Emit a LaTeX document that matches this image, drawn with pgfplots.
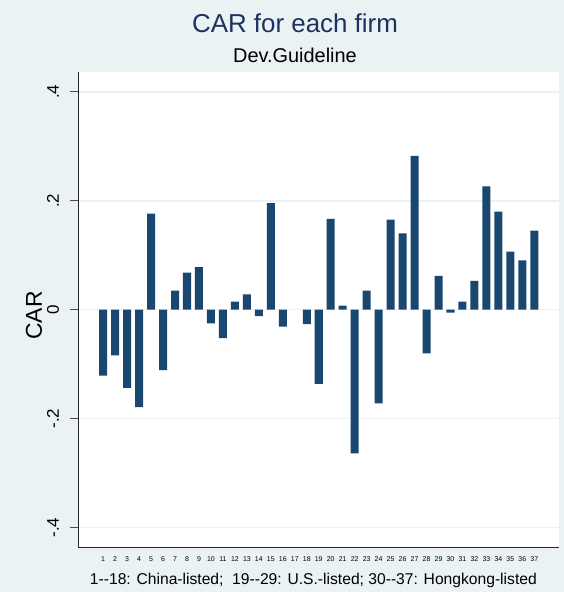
\documentclass[border=0pt]{standalone}
\usepackage{pgfplots}
\pgfplotsset{compat=1.18}
\usepackage{fontspec}
\setmainfont{Liberation Sans}
\definecolor{bgc}{HTML}{EAF2F3}
\definecolor{gridc}{HTML}{EAF2F3}
\definecolor{barc}{HTML}{1A476F}
\definecolor{titlec}{HTML}{1E3160}
\begin{document}
\begin{tikzpicture}
\fill[bgc] (0,0) rectangle (564bp,592bp);
\begin{axis}[
  at={(78bp,44.3bp)}, anchor=south west,
  width=481bp, height=476bp, scale only axis,
  xmin=-1.1, xmax=39.06, ymin=-0.437, ymax=0.437,
  axis x line*=bottom, axis y line*=left,
  axis line style={-, color=black!85, line width=0.9bp},
  axis background/.style={fill=white},
  /pgf/number format/assume math mode=true,
  ytick={-0.4,-0.2,0,0.2,0.4},
  yticklabels={-.4,-.2,0,.2,.4},
  xtick={1,...,37},
  ymajorgrids,
  major grid style={color=gridc, line width=1.6bp},
  tick align=outside,
  y tick style={color=black!70, line width=0.8bp},
  major tick length=8bp,
  x tick style={draw=none},
  yticklabel style={font=\fontsize{17}{17}\selectfont, xshift=-17bp, rotate=90, anchor=center},
  xticklabel style={font=\fontsize{7}{7}\selectfont, anchor=center, yshift=-3.3bp},
  ylabel={CAR},
  ylabel style={font=\fontsize{23}{23}\selectfont, at={(axis description cs:-0.0915,0.488)}, anchor=center, rotate=0},
  xlabel={1-{}-18: China-listed;\ \ 19-{}-29: U.S.-listed; 30-{}-37: Hongkong-listed},
  xlabel style={font=\fontsize{15.7}{15.7}\selectfont, at={(axis description cs:0.4894,-0.0773)}, anchor=base},
  clip=false,
]
\addplot[ybar, bar width=0.67, fill=barc, draw=none] coordinates {
(1,-0.121) (2,-0.084) (3,-0.1435) (4,-0.179) (5,0.1766) (6,-0.111)
(7,0.035) (8,0.068) (9,0.078) (10,-0.025) (11,-0.052) (12,0.015)
(13,0.028) (14,-0.012) (15,0.1956) (16,-0.031) (18,-0.0265)
(19,-0.136) (20,0.1667) (21,0.0074) (22,-0.264) (23,0.035) (24,-0.172)
(25,0.1656) (26,0.14) (27,0.2826) (28,-0.080) (29,0.062)
(30,-0.0055) (31,0.0147) (32,0.0527) (33,0.2263) (34,0.180)
(35,0.1067) (36,0.0907) (37,0.1453)
};
\end{axis}
\node[anchor=base, font=\fontsize{26}{26}\selectfont, text=titlec, inner sep=0] at (295bp,559.7bp) {CAR for each firm};
\node[anchor=base, font=\fontsize{20}{20}\selectfont, text=black, inner sep=0] at (295bp,529.3bp) {Dev.Guideline};
\pgfresetboundingbox
\useasboundingbox (0,0) rectangle (564bp,592bp);
\end{tikzpicture}
\end{document}
